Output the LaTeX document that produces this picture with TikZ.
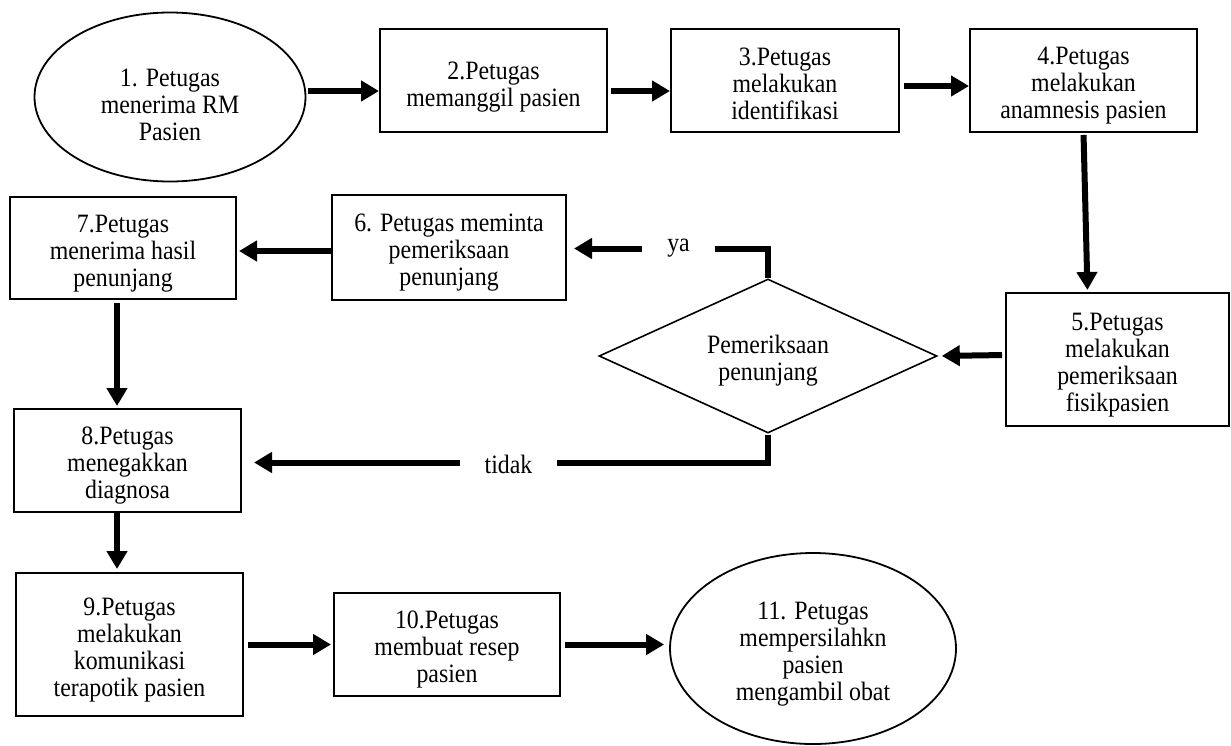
\documentclass[tikz,border=0pt]{standalone}
\usepackage{fontspec}
\setmainfont{Liberation Serif}[FakeStretch=0.9]
\usetikzlibrary{arrows.meta,shapes.geometric}
\newcommand\toppad[1][28pt]{\rule{0pt}{#1}}
\begin{document}
\begin{tikzpicture}[x=1pt,y=-1pt,
  txt/.style={font=\fontsize{26.5}{27}\selectfont},
  box/.style={txt, draw, line width=2pt, rectangle, inner sep=0pt, align=center},
  oval/.style={txt, draw, line width=1.8pt, ellipse, inner sep=0pt, align=center},
  decision/.style={txt, draw, line width=1.6pt, diamond, aspect=2.2, inner sep=0pt, align=center},
  lbl/.style={txt, inner sep=0pt},
  conn/.style={line width=6pt},
  arr/.style={line width=6pt, -{Triangle[length=18pt,width=20pt]}}
]
\useasboundingbox (0,0) rectangle (1231,745);

\node[oval, minimum width=271pt, minimum height=169pt] (n1) at (170,97) {\toppad[33pt]1. Petugas\\menerima RM\\Pasien};
\node[box, minimum width=227pt, minimum height=103pt] (n2) at (493.5,80.5) {\toppad[30pt]2.Petugas\\memanggil pasien};
\node[box, minimum width=228pt, minimum height=103pt] (n3) at (785,80.5) {\toppad[24pt]3.Petugas\\melakukan\\identifikasi};
\node[box, minimum width=227pt, minimum height=103pt] (n4) at (1083.5,80.5) {\toppad4.Petugas\\melakukan\\anamnesis pasien};
\node[box, minimum width=223pt, minimum height=133pt] (n5) at (1117.5,359.5) {\toppad5.Petugas\\melakukan\\pemeriksaan\\fisikpasien};
\node[decision, minimum width=338pt, minimum height=154pt] (d) at (768,356) {\toppad Pemeriksaan\\penunjang};
\node[box, minimum width=234pt, minimum height=105pt] (n6) at (449,247.5) {\toppad6. Petugas meminta\\pemeriksaan\\penunjang};
\node[box, minimum width=226pt, minimum height=102pt] (n7) at (123,248) {\toppad7.Petugas\\menerima hasil\\penunjang};
\node[box, minimum width=227pt, minimum height=103pt] (n8) at (127.5,460.5) {\toppad8.Petugas\\menegakkan\\diagnosa};
\node[box, minimum width=227pt, minimum height=143pt] (n9) at (129.5,644.5) {\toppad9.Petugas\\melakukan\\komunikasi\\terapotik pasien};
\node[box, minimum width=226pt, minimum height=103pt] (n10) at (447,644.5) {\toppad10.Petugas\\membuat resep\\pasien};
\node[oval, minimum width=286pt, minimum height=191pt] (n11) at (813,648.5) {\toppad11. Petugas\\mempersilahkn\\pasien\\mengambil obat};

\node[lbl, minimum width=73pt] (ya) at (678.5,248.5) {ya};
\node[lbl, minimum width=97pt] (td) at (508.5,464) {tidak};

\coordinate (e12) at ([yshift=-10.5pt]n2.west);
\draw[arr, shorten <=2pt] (n1.east |- e12) -- (e12);
\draw[arr, shorten <=3pt] ([yshift=-10.5pt]n2.east) -- ([yshift=-10.5pt]n3.west);
\draw[arr, shorten <=4pt] ([yshift=-5.5pt]n3.east) -- ([yshift=-5.5pt]n4.west);
\draw[arr, shorten <=2pt, shorten >=2pt] (n4.south) -- ([xshift=-30pt]n5.north);
\draw[arr, shorten <=3pt, shorten >=4pt] ([yshift=4.5pt]n5.west) -- (d.east);

\draw[conn] (d.north) |- (ya.east);
\draw[arr, shorten >=7pt] (ya.west) -- (ya.west -| n6.east);
\draw[conn] ([yshift=-1pt]d.south) |- ([yshift=1.5pt]td.east);
\coordinate (tl) at ([yshift=1.5pt]td.west);
\draw[arr, shorten >=12pt] (tl) -- (tl -| n8.east);

\coordinate (s67) at ([yshift=-3.5pt]n6.west);
\draw[arr, shorten >=2pt] (s67) -- (s67 -| n7.east);
\coordinate (s78) at ([xshift=-6pt]n7.south);
\draw[arr, shorten <=3pt, shorten >=2pt] (s78) -- (s78 |- n8.north);
\coordinate (s89) at ([xshift=-10.5pt]n8.south);
\draw[arr, shorten >=3pt] (s89) -- (s89 |- n9.north);
\draw[arr, shorten <=4pt, shorten >=2pt] (n9.east) -- (n10.west);
\draw[arr, shorten <=4pt, shorten >=5pt] (n10.east) -- (n10.east -| n11.west);
\end{tikzpicture}
\end{document}
